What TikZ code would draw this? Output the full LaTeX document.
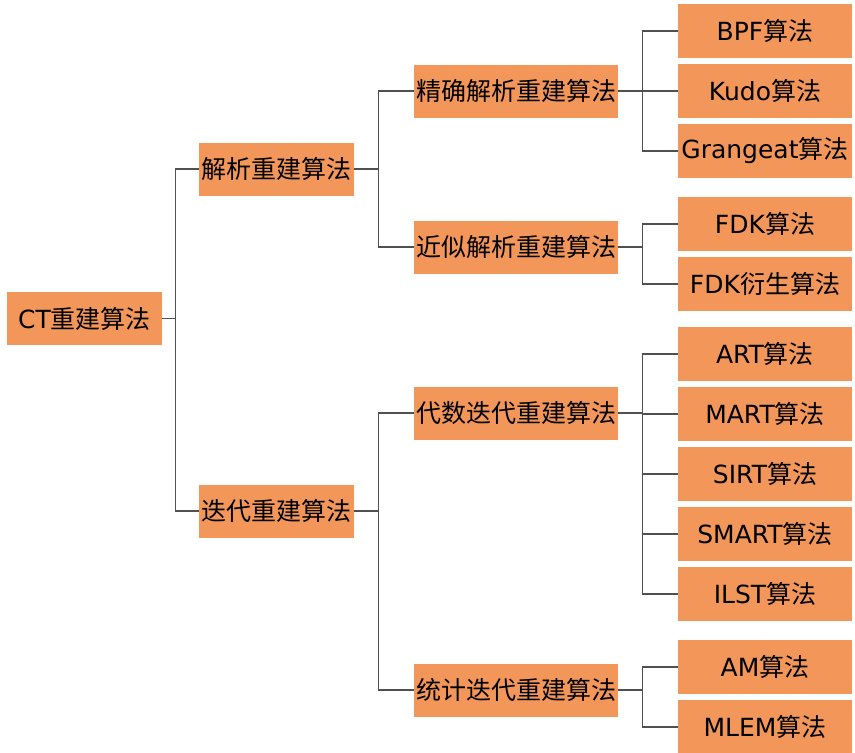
\documentclass[tikz,border=0pt]{standalone}
\usepackage{fontspec}
\setmainfont{DejaVu Sans}
\newfontfamily\cjk{Noto Sans CJK SC}
\newcommand{\cj}[1]{{\cjk #1}}
\definecolor{boxorange}{RGB}{243,150,90}
\definecolor{linegray}{RGB}{80,80,80}
\tikzset{
  box/.style={fill=boxorange, inner sep=0pt, minimum height=53pt, text=black,
    font=\fontsize{25}{25}\selectfont},
  rootbox/.style={box, minimum width=155pt},
  midbox/.style={box, minimum width=155pt},
  subbox/.style={box, minimum width=204pt},
  leafbox/.style={box, minimum width=174pt, minimum height=54pt},
  link/.style={draw=linegray, line width=1.3pt}
}
\begin{document}
\begin{tikzpicture}[x=1pt,y=-1pt]
\useasboundingbox (0,0) rectangle (855,753);
\node[rootbox] (root) at (84.5,318.5) {CT\cj{重建算法}};
\node[midbox] (ana) at (276.5,169) {\cj{解析重建算法}};
\node[midbox] (ite) at (276.5,511) {\cj{迭代重建算法}};
\node[subbox] (exa) at (516,91) {\cj{精确解析重建算法}};
\node[subbox] (app) at (516,247) {\cj{近似解析重建算法}};
\node[subbox] (alg) at (516,413) {\cj{代数迭代重建算法}};
\node[subbox] (sta) at (516,690) {\cj{统计迭代重建算法}};
\node[leafbox] (bpf) at (765,31) {BPF\cj{算法}};
\node[leafbox] (kudo) at (765,91) {Kudo\cj{算法}};
\node[leafbox] (gra) at (765,151) {Grangeat\cj{算法}};
\node[leafbox] (fdk) at (765,224) {FDK\cj{算法}};
\node[leafbox] (fdkd) at (765,284) {FDK\cj{衍生算法}};
\node[leafbox] (art) at (765,354) {ART\cj{算法}};
\node[leafbox] (mart) at (765,414) {MART\cj{算法}};
\node[leafbox] (sirt) at (765,474) {SIRT\cj{算法}};
\node[leafbox] (smart) at (765,534) {SMART\cj{算法}};
\node[leafbox] (ilst) at (765,594) {ILST\cj{算法}};
\node[leafbox] (am) at (765,667) {AM\cj{算法}};
\node[leafbox] (mlem) at (765,727) {MLEM\cj{算法}};
\foreach \c in {ana,ite} \draw[link] (root.east) -- ++(13,0) |- (\c.west);
\foreach \c in {exa,app} \draw[link] (ana.east) -- ++(24,0) |- (\c.west);
\foreach \c in {alg,sta} \draw[link] (ite.east) -- ++(24,0) |- (\c.west);
\foreach \c in {bpf,kudo,gra} \draw[link] (exa.east) -- ++(24,0) |- (\c.west);
\foreach \c in {fdk,fdkd} \draw[link] (app.east) -- ++(24,0) |- (\c.west);
\foreach \c in {art,mart,sirt,smart,ilst} \draw[link] (alg.east) -- ++(24,0) |- (\c.west);
\foreach \c in {am,mlem} \draw[link] (sta.east) -- ++(24,0) |- (\c.west);
\end{tikzpicture}
\end{document}
